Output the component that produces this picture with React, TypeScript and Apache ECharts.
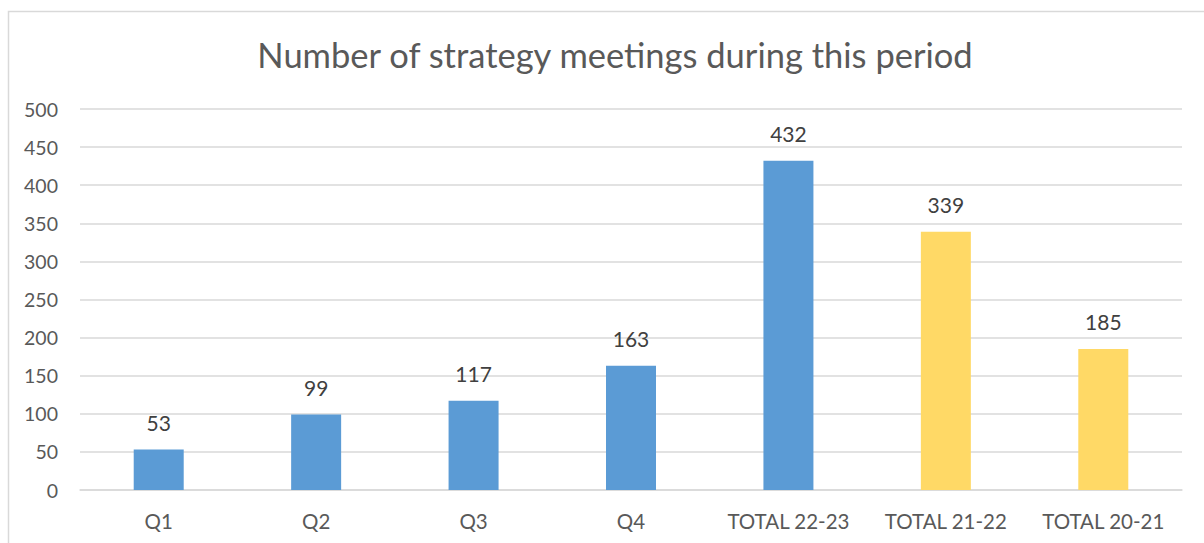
import React, { useEffect, useRef } from "react";
import * as echarts from "echarts";

const categories = ["Q1", "Q2", "Q3", "Q4", "TOTAL 22-23", "TOTAL 21-22", "TOTAL 20-21"];
const values = [53, 99, 117, 163, 432, 339, 185];
const barColors = ["#5B9BD5", "#5B9BD5", "#5B9BD5", "#5B9BD5", "#5B9BD5", "#FFD966", "#FFD966"];
const titleText = "Number of strategy meetings during this period";

export default function App() {
  const ref = useRef<HTMLDivElement>(null);
  useEffect(() => {
    if (!ref.current) return;
    const chart = echarts.init(ref.current, null, { renderer: "svg" });
    const font = "Lato, 'Open Sans', sans-serif";
    chart.setOption({
      animation: false,
      backgroundColor: "#ffffff",
      title: {
        text: titleText,
        left: 610,
        textAlign: "center",
        top: 32,
        textStyle: { fontFamily: font, fontSize: 34.5, fontWeight: "normal", color: "#595959" },
      },
      graphic: [
        {
          type: "rect",
          shape: { x: 8.5, y: 11.5, width: 1300, height: 700 },
          style: { fill: "none", stroke: "#d9d9d9", lineWidth: 1.5 },
          silent: true,
        },
      ],
      grid: { left: 80, right: 22, top: 109, bottom: 53, containLabel: false },
      xAxis: {
        type: "category",
        data: categories,
        axisLine: { show: true, lineStyle: { color: "#d9d9d9", width: 1.5 } },
        axisTick: { show: false },
        axisLabel: { fontFamily: font, fontSize: 20.5, color: "#595959", margin: 20, interval: 0 },
      },
      yAxis: {
        type: "value",
        min: 0,
        max: 500,
        interval: 50,
        axisLine: { show: false },
        axisTick: { show: false },
        splitLine: { lineStyle: { color: "#d9d9d9", width: 1.5 } },
        axisLabel: { fontFamily: font, fontSize: 19.5, color: "#595959", margin: 22 },
      },
      series: [
        {
          type: "bar",
          barWidth: 50,
          data: values.map((v, i) => ({ value: v, itemStyle: { color: barColors[i] } })),
          label: {
            show: true,
            position: "top",
            distance: 17,
            fontFamily: font,
            fontSize: 21,
            color: "#404040",
          },
        },
      ],
    });
    return () => chart.dispose();
  }, []);
  return (
    <div
      ref={ref}
      style={{ position: "fixed", left: 0, top: 0, width: 1204, height: 543 }}
    />
  );
}
